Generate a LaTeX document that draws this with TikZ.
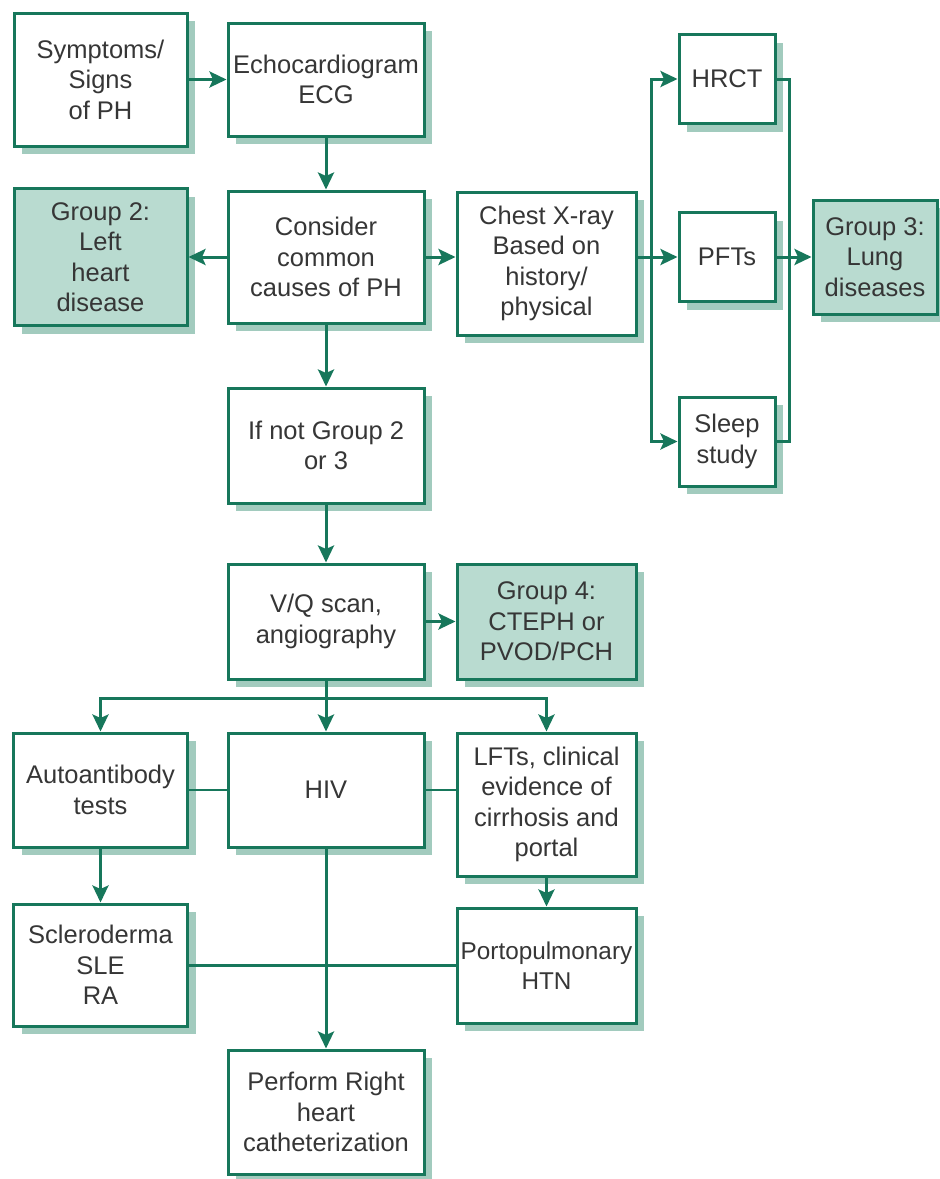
\documentclass[tikz,border=0pt]{standalone}
\usepackage{fontspec}
\setmainfont{Liberation Sans}
\usetikzlibrary{arrows.meta,shadows}
\definecolor{edgegreen}{HTML}{17775B}
\definecolor{groupfill}{HTML}{B9DBD0}
\definecolor{shadowfill}{HTML}{A2CBBE}
\definecolor{textgray}{HTML}{363636}
\tikzset{
  box/.style={rectangle, draw=edgegreen, line width=3pt, fill=white, inner sep=0pt,
    align=center, text=textgray, font=\fontsize{25.5pt}{30.5pt}\selectfont,
    drop shadow={shadow xshift=8pt, shadow yshift=-8pt, fill=shadowfill, opacity=1}},
  group/.style={box, fill=groupfill},
  link/.style={draw=edgegreen, line width=3pt},
  flow/.style={link, -{Stealth[length=17pt,width=16pt,inset=3.5pt]}},
  side/.style={draw=edgegreen, line width=2.2pt},
}
\begin{document}
\begin{tikzpicture}[x=1pt,y=-1pt]
\useasboundingbox (0,0) rectangle (940,1179);

% top row
\node[box, minimum width=173pt, minimum height=133pt] (sym) at (100.5,79.5) {Symptoms/\\Signs\\of PH};
\node[box, minimum width=196pt, minimum height=113pt] (echo) at (326,79.5) {Echocardiogram\\ECG};

% second row
\node[group, minimum width=173pt, minimum height=137pt] (g2) at (100.5,257) {Group 2:\\Left\\heart\\disease};
\node[box, minimum width=196pt, minimum height=132pt] (cons) at (326,257) {Consider\\common\\causes of PH};
\node[box, minimum width=179pt, minimum height=143pt] (chest) at (546.5,263.5) {Chest X-ray\\Based on\\history/\\physical};

% lung tests
\node[box, minimum width=96pt, minimum height=89pt] (hrct) at (727,79) {HRCT};
\node[box, minimum width=96pt, minimum height=89pt] (pft) at (727,257) {PFTs};
\node[box, minimum width=96pt, minimum height=89pt] (sleep) at (727,441.5) {Sleep\\study};
\node[group, minimum width=124pt, minimum height=114pt] (g3) at (875,257) {Group 3:\\Lung\\diseases};

% middle column
\node[box, minimum width=196pt, minimum height=115pt] (ifnot) at (326,445.5) {If not Group 2\\or 3};
\node[box, minimum width=196pt, minimum height=115pt] (vq) at (326,621.5) {V/Q scan,\\angiography};
\node[group, minimum width=179pt, minimum height=115pt] (g4) at (546.5,621.5) {Group 4:\\CTEPH or\\PVOD/PCH};

% third tier
\node[box, minimum width=174pt, minimum height=114pt] (auto) at (100.5,790) {Autoantibody\\tests};
\node[box, minimum width=196pt, minimum height=114pt] (hiv) at (326,790) {HIV};
\node[box, minimum width=179pt, minimum height=143pt] (lft) at (546.5,804.5) {LFTs, clinical\\evidence of\\cirrhosis and\\portal};

% bottom tier
\node[box, minimum width=174pt, minimum height=122pt] (scl) at (100.5,965) {Scleroderma\\SLE\\RA};
\node[box, minimum width=179pt, minimum height=115pt, font=\fontsize{24.3pt}{30.5pt}\selectfont] (porto) at (546.5,965.5) {Portopulmonary\\HTN};
\node[box, minimum width=196pt, minimum height=124pt] (rhc) at (326,1112) {Perform Right\\heart\\catheterization};

% junction points
\coordinate (busL) at (651,257);
\coordinate (busR) at (789,257);
\coordinate (busB) at (326,698);

% connectors
\draw[flow] (sym.east) -- (echo.west);
\draw[flow] (echo.south) -- (cons.north);
\draw[flow] (cons.west) -- (g2.east);
\draw[flow] (cons.east) -- (cons.east -| chest.west);
\draw[flow] (cons.east -| chest.east) -- (pft.west);
\draw[flow] (busL) |- (hrct.west);
\draw[flow] (busL) |- (sleep.west);
\draw[link] (hrct.east) -| (busR) |- (sleep.east);
\draw[flow] (pft.east) -- (g3.west);
\draw[flow] (cons.south) -- (ifnot.north);
\draw[flow] (ifnot.south) -- (vq.north);
\draw[flow] (vq.east) -- (g4.west);
\draw[flow] (vq.south) -- (hiv.north);
\draw[flow] (busB) -| (auto.north);
\draw[flow] (busB) -| (lft.north);
\draw[side] (auto.east) -- (hiv.west);
\draw[side] (hiv.east) -- (hiv.east -| lft.west);
\draw[flow] (auto.south) -- (scl.north);
\draw[flow] (lft.south) -- (porto.north);
\draw[link] (scl.east) -- (scl.east -| porto.west);
\draw[flow] (hiv.south) -- (rhc.north);
\end{tikzpicture}
\end{document}
